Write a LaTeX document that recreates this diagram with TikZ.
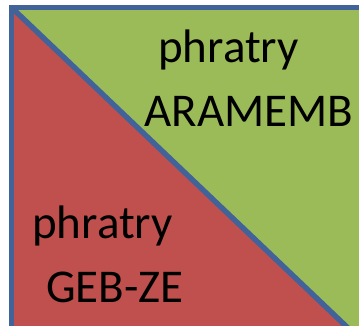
\documentclass[tikz,border=0pt]{standalone}
\usepackage{fontspec}
\setmainfont{Carlito}
\definecolor{borderblue}{RGB}{65,99,154}
\definecolor{leafgreen}{RGB}{155,187,89}
\definecolor{brickred}{RGB}{192,80,77}
\begin{document}
\begin{tikzpicture}[x=1pt,y=-1pt,
  edge/.style={draw=borderblue,line width=5.4pt},
  lbl/.style={anchor=base,inner sep=0pt,font=\fontsize{47}{51}\selectfont}]
  \useasboundingbox (0,0) rectangle (359,326);
  \clip (0,0) rectangle (359,326);
  % square split along its diagonal
  \coordinate (tl) at (11.5,7.5);
  \coordinate (br) at (370,349);
  \fill[leafgreen] (tl) -- (br |- tl) -- (br) -- cycle;
  \fill[brickred] (tl) -- (tl |- br) -- (br) -- cycle;
  \draw[edge] (tl) -- (br);
  \draw[edge] (br |- tl) -- (tl) -- (tl |- br);
  % phratry labels
  \node[lbl] (upA) at (228.5,63) {phratry};
  \node[lbl] (upB) at (249,127) {ARAMEMB};
  \node[lbl] (loA) at (102.5,238) {phratry};
  \node[lbl] (loB) at (115,302) {GEB-ZE};
\end{tikzpicture}
\end{document}
